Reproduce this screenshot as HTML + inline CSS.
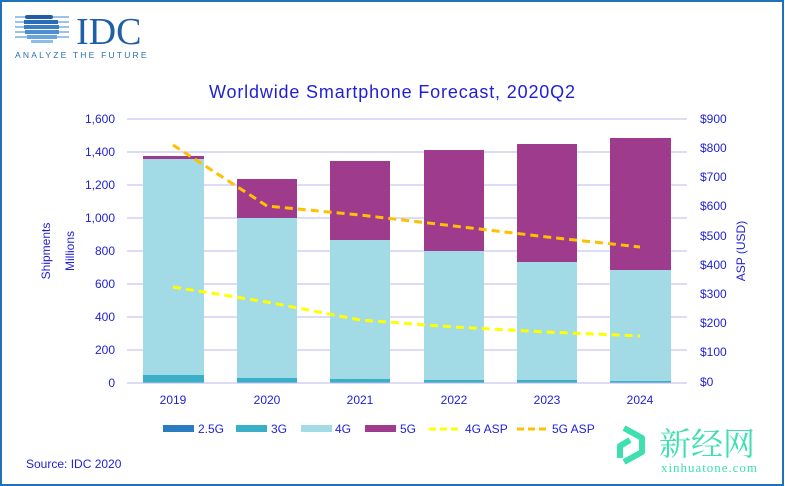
<!DOCTYPE html>
<html><head><style>
html,body{margin:0;padding:0;background:#fff}
svg{display:block;font-family:"Liberation Sans","DejaVu Sans",sans-serif}
</style></head><body>
<svg width="785" height="486" viewBox="0 0 785 486" xmlns="http://www.w3.org/2000/svg">
<rect x="1" y="1" width="782" height="484" fill="#fff" stroke="#1f72b8" stroke-width="2"/>
<!-- logo -->
<g>
<rect x="15" y="16" width="54" height="2" fill="#9cc3e6"/>
<rect x="25" y="15" width="28" height="4" rx="2" fill="#1f5fa8"/>
<rect x="15" y="21" width="54" height="2" fill="#9cc3e6"/>
<rect x="24" y="20" width="34" height="4" fill="#2a6db5"/>
<rect x="15" y="26" width="54" height="2" fill="#9cc3e6"/>
<rect x="24" y="25" width="35" height="4" fill="#3a7fc4"/>
<rect x="15" y="31" width="54" height="2" fill="#9cc3e6"/>
<rect x="25" y="30" width="34" height="4" fill="#4c8fd0"/>
<rect x="15" y="36" width="54" height="2" fill="#9cc3e6"/>
<rect x="27" y="35" width="30" height="4" fill="#6aa6dc"/>
<rect x="31" y="40" width="22" height="3" fill="#8dbde8"/>
<text x="76" y="44" font-family="Liberation Serif,serif" font-size="38" fill="#1f5fa8">IDC</text>
<text x="15" y="58" font-size="8.5" letter-spacing="2.2" fill="#2b6fb5">ANALYZE THE FUTURE</text>
</g>
<text x="392" y="98" text-anchor="middle" font-size="18" textLength="366" lengthAdjust="spacing" fill="#1f1fd6">Worldwide Smartphone Forecast, 2020Q2</text>
<!-- grid -->
<g stroke="#b8b8f0" stroke-width="1">
<line x1="127" x2="687" y1="119" y2="119"/>
<line x1="127" x2="687" y1="152" y2="152"/>
<line x1="127" x2="687" y1="185" y2="185"/>
<line x1="127" x2="687" y1="218" y2="218"/>
<line x1="127" x2="687" y1="251" y2="251"/>
<line x1="127" x2="687" y1="284" y2="284"/>
<line x1="127" x2="687" y1="317" y2="317"/>
<line x1="127" x2="687" y1="350" y2="350"/>
<line x1="127" x2="687" y1="383" y2="383"/>
</g>
<g font-size="12" fill="#1f1fd6" text-anchor="end">
<text x="115" y="123">1,600</text><text x="115" y="156">1,400</text><text x="115" y="189">1,200</text>
<text x="115" y="222">1,000</text><text x="115" y="255">800</text><text x="115" y="288">600</text>
<text x="115" y="321">400</text><text x="115" y="354">200</text><text x="115" y="387">0</text>
</g>
<g font-size="12" fill="#1f1fd6">
<text x="700" y="123">$900</text><text x="700" y="152">$800</text><text x="700" y="181">$700</text>
<text x="700" y="210">$600</text><text x="700" y="240">$500</text><text x="700" y="269">$400</text>
<text x="700" y="298">$300</text><text x="700" y="327">$200</text><text x="700" y="356">$100</text>
<text x="700" y="386">$0</text>
</g>
<text transform="translate(50,251) rotate(-90)" text-anchor="middle" font-size="12" fill="#1f1fd6">Shipments</text>
<text transform="translate(74,251) rotate(-90)" text-anchor="middle" font-size="12" fill="#1f1fd6">Millions</text>
<text transform="translate(745,251) rotate(-90)" text-anchor="middle" font-size="12" fill="#1f1fd6">ASP (USD)</text>
<!-- bars -->
<g>
<rect x="143" y="156" width="61" height="4" fill="#9e3b8c"/>
<rect x="143" y="159" width="61" height="216" fill="#a2dae5"/>
<rect x="143" y="375" width="61" height="8" fill="#3aafc8"/>

<rect x="237" y="179" width="60" height="39" fill="#9e3b8c"/>
<rect x="237" y="218" width="60" height="160" fill="#a2dae5"/>
<rect x="237" y="378" width="60" height="5" fill="#3aafc8"/>

<rect x="330" y="161" width="60" height="79" fill="#9e3b8c"/>
<rect x="330" y="240" width="60" height="139" fill="#a2dae5"/>
<rect x="330" y="379" width="60" height="4" fill="#3aafc8"/>

<rect x="424" y="150" width="60" height="101" fill="#9e3b8c"/>
<rect x="424" y="251" width="60" height="129" fill="#a2dae5"/>
<rect x="424" y="380" width="60" height="3" fill="#3aafc8"/>

<rect x="517" y="144" width="60" height="118" fill="#9e3b8c"/>
<rect x="517" y="262" width="60" height="118" fill="#a2dae5"/>
<rect x="517" y="380" width="60" height="3" fill="#3aafc8"/>

<rect x="610" y="138" width="61" height="132" fill="#9e3b8c"/>
<rect x="610" y="270" width="61" height="111" fill="#a2dae5"/>
<rect x="610" y="381" width="61" height="2" fill="#3aafc8"/>
</g>
<line x1="127" x2="687" y1="383" y2="383" stroke="#b8b8f0"/>
<!-- lines -->
<polyline points="173,145 267,206 360,215 454,226 547,237 640,247" fill="none" stroke="#ffc000" stroke-width="3" stroke-dasharray="8,5"/>
<polyline points="173,287 267,302 360,320 454,327 547,332 640,336" fill="none" stroke="#ffff00" stroke-width="3" stroke-dasharray="8,5"/>
<!-- x labels -->
<g font-size="12" fill="#1f1fd6" text-anchor="middle">
<text x="173" y="404">2019</text><text x="267" y="404">2020</text><text x="360" y="404">2021</text>
<text x="454" y="404">2022</text><text x="547" y="404">2023</text><text x="640" y="404">2024</text>
</g>
<!-- legend -->
<g font-size="12" fill="#1f1fd6">
<rect x="163" y="425" width="31" height="7" fill="#2a7bbf"/><text x="198" y="433">2.5G</text>
<rect x="236" y="425" width="31" height="7" fill="#3aafc8"/><text x="271" y="433">3G</text>
<rect x="301" y="425" width="31" height="7" fill="#a2dae5"/><text x="335" y="433">4G</text>
<rect x="365" y="425" width="31" height="7" fill="#9e3b8c"/><text x="400" y="433">5G</text>
<line x1="429" x2="459" y1="429" y2="429" stroke="#ffff00" stroke-width="3" stroke-dasharray="7,4"/><text x="465" y="433">4G ASP</text>
<line x1="517" x2="547" y1="429" y2="429" stroke="#ffc000" stroke-width="3" stroke-dasharray="7,4"/><text x="552" y="433">5G ASP</text>
</g>
<text x="26" y="468" font-size="12" fill="#1f1fd6">Source: IDC 2020</text>
<!-- watermark -->
<g fill="none" stroke="#3ee0b0" stroke-width="6" stroke-linejoin="round">
<path d="M624,428 l18,10 l0,14 l-18,10"/>
<path d="M630,440 l-10,6 l0,12"/>
</g>
<text x="659" y="455" font-family="Noto Serif CJK SC,serif" font-size="32" fill="#3ee0b0">新经网</text>
<text x="661" y="472" font-family="Liberation Serif,serif" font-size="13" textLength="96" fill="#3ee0b0">xinhuatone.com</text>
</svg>
</body></html>
